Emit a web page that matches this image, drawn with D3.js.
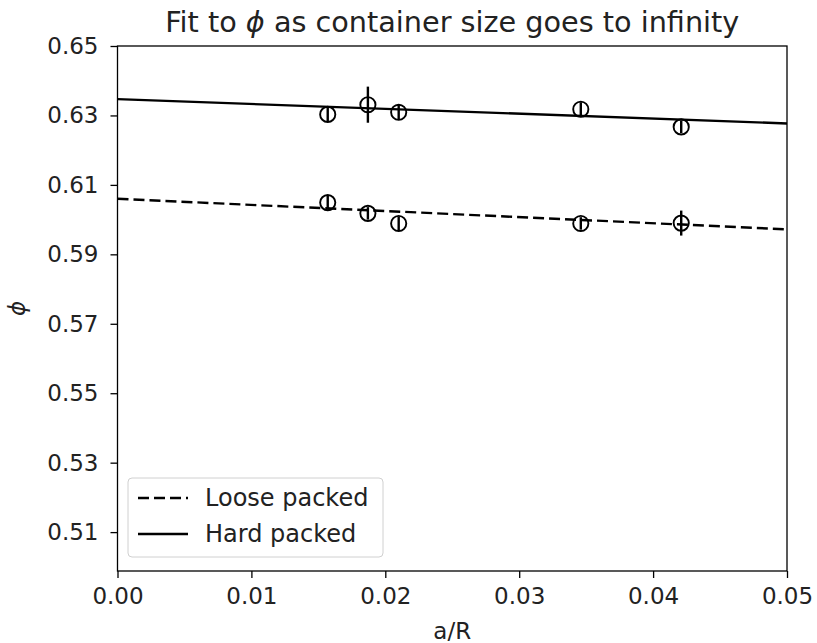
<!DOCTYPE html>
<html>
<head>
<meta charset="utf-8">
<script src="https://cdn.jsdelivr.net/npm/d3@7"></script>
<style>
  body { margin: 0; background: #fff; }
  text { font-family: "DejaVu Sans", sans-serif; fill: #222; }
</style>
</head>
<body>
<script>
const width = 817;
const height = 643;

let margin = {top: 46, right: 30, bottom: 72, left: 117.5};

// data
const xTicks = [0.00, 0.01, 0.02, 0.03, 0.04, 0.05];
const yTicks = [0.51, 0.53, 0.55, 0.57, 0.59, 0.61, 0.63, 0.65];

const aR = [0.0157, 0.0187, 0.0210, 0.0346, 0.0421];
const hardPhi = [0.6303, 0.6331, 0.6309, 0.6318, 0.6267];
const hardErr = [0.0020, 0.0052, 0.0022, 0.0020, 0.0018];
const loosePhi = [0.6049, 0.6018, 0.5989, 0.5989, 0.5990];
const looseErr = [0.0020, 0.0018, 0.0020, 0.0018, 0.0036];

// fitted lines: value at a/R = 0 and at a/R = 0.05
const hardFit = [[0, 0.6347], [0.05, 0.6277]];
const looseFit = [[0, 0.6060], [0.05, 0.5972]];

let svg = d3.select("body")
    .append("svg")
    .attr("width", width)
    .attr("height", height);

let xScale = d3.scaleLinear()
    .domain([0, 0.05])
    .range([margin.left, width - margin.right]);

let yScale = d3.scaleLinear()
    .domain([0.4988, 0.65])
    .range([height - margin.bottom, margin.top]);

// axes
let bottomAxis = d3.axisBottom(xScale)
    .tickValues(xTicks)
    .tickFormat(d3.format(".2f"))
    .tickSize(7)
    .tickPadding(10);
let leftAxis = d3.axisLeft(yScale)
    .tickValues(yTicks)
    .tickFormat(d3.format(".2f"))
    .tickSize(7)
    .tickPadding(12);

let bottomContainer = svg.append("g")
    .attr("transform", `translate(0, ${height - margin.bottom})`)
    .call(bottomAxis);
let leftContainer = svg.append("g")
    .attr("transform", `translate(${margin.left}, 0)`)
    .call(leftAxis);

[bottomContainer, leftContainer].forEach(g => {
    g.select(".domain").remove();
    g.selectAll(".tick line").attr("stroke", "#000").attr("stroke-width", 1.3);
    g.selectAll(".tick text")
        .style("font-family", "DejaVu Sans, sans-serif")
        .style("font-size", "23px")
        .attr("fill", "#222");
});

// frame
svg.append("rect")
    .attr("x", xScale(0))
    .attr("y", yScale(0.65))
    .attr("width", xScale(0.05) - xScale(0))
    .attr("height", yScale(0.4988) - yScale(0.65))
    .attr("fill", "none")
    .attr("stroke", "#000")
    .attr("stroke-width", 1.3);

// fit lines
let line = d3.line().x(d => xScale(d[0])).y(d => yScale(d[1]));

svg.append("path")
    .datum(hardFit)
    .attr("d", line)
    .attr("fill", "none")
    .attr("stroke", "#000")
    .attr("stroke-width", 2.4);

svg.append("path")
    .datum(looseFit)
    .attr("d", line)
    .attr("fill", "none")
    .attr("stroke", "#000")
    .attr("stroke-width", 2.4)
    .attr("stroke-dasharray", "11,5");

// points with error bars
function drawPoints(phi, err) {
    let pts = aR.map((x, i) => ({x: x, y: phi[i], e: err[i]}));
    let g = svg.append("g");
    g.selectAll("line.err")
        .data(pts)
        .join("line")
        .attr("class", "err")
        .attr("x1", d => xScale(d.x))
        .attr("x2", d => xScale(d.x))
        .attr("y1", d => yScale(d.y - d.e))
        .attr("y2", d => yScale(d.y + d.e))
        .attr("stroke", "#000")
        .attr("stroke-width", 2.4);
    g.selectAll("circle")
        .data(pts)
        .join("circle")
        .attr("cx", d => xScale(d.x))
        .attr("cy", d => yScale(d.y))
        .attr("r", 7.6)
        .attr("fill", "none")
        .attr("stroke", "#000")
        .attr("stroke-width", 1.9);
}
drawPoints(hardPhi, hardErr);
drawPoints(loosePhi, looseErr);

// title and labels
svg.append("text")
    .attr("x", (xScale(0) + xScale(0.05)) / 2)
    .attr("y", 32)
    .attr("text-anchor", "middle")
    .style("font-size", "28.7px")
    .html("Fit to <tspan font-style='italic'>ϕ</tspan> as container size goes to infinity");

svg.append("text")
    .attr("x", (xScale(0) + xScale(0.05)) / 2)
    .attr("y", 639)
    .attr("text-anchor", "middle")
    .style("font-size", "23px")
    .text("a/R");

svg.append("text")
    .attr("transform", `translate(25, ${(yScale(0.65) + yScale(0.4988)) / 2}) rotate(-90)`)
    .attr("text-anchor", "middle")
    .style("font-size", "23px")
    .style("font-style", "italic")
    .text("ϕ");

// legend
let legend = svg.append("g").attr("transform", "translate(128, 478)");
legend.append("rect")
    .attr("width", 255)
    .attr("height", 79)
    .attr("rx", 4)
    .attr("fill", "#fff")
    .attr("fill-opacity", 0.8)
    .attr("stroke", "#d0d0d0")
    .attr("stroke-width", 1);

const legendItems = ["Loose packed", "Hard packed"];
const legendDash = ["11,5", null];
legendItems.forEach((name, i) => {
    let yy = 20 + i * 36;
    legend.append("line")
        .attr("x1", 10).attr("x2", 60)
        .attr("y1", yy).attr("y2", yy)
        .attr("stroke", "#000")
        .attr("stroke-width", 2.4)
        .attr("stroke-dasharray", legendDash[i]);
    legend.append("text")
        .attr("x", 77)
        .attr("y", yy + 8)
        .style("font-size", "24px")
        .text(name);
});
</script>
</body>
</html>
